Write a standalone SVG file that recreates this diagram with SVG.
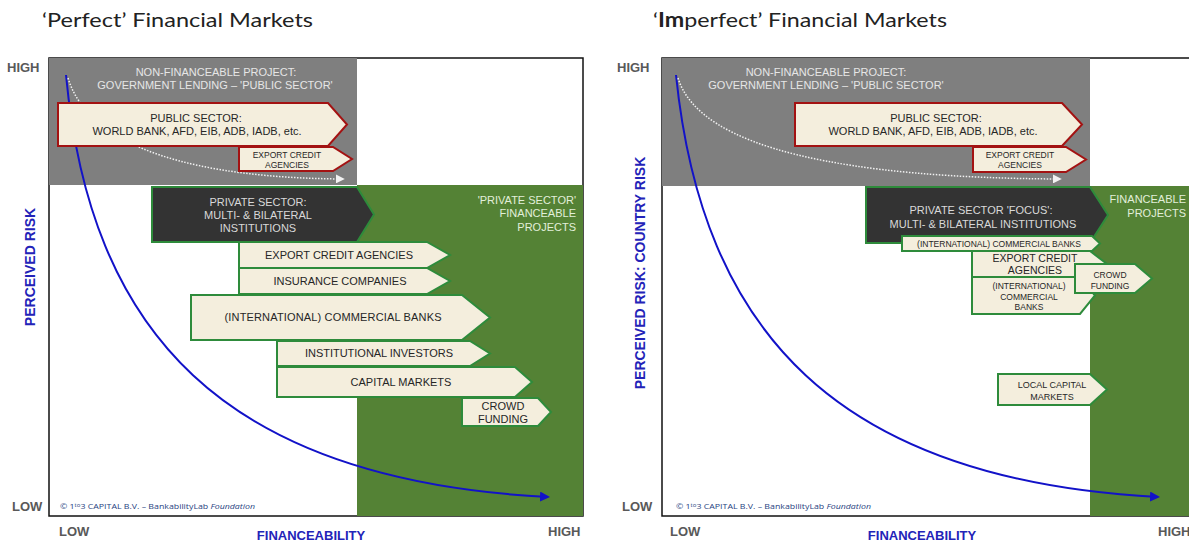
<svg xmlns="http://www.w3.org/2000/svg" width="1189" height="543" viewBox="0 0 1189 543">
<defs>
<style>
.t{font-family:"Liberation Sans",Arial,sans-serif;fill:#262626;text-anchor:middle}
.s11{font-size:11px}
.s8{font-size:8.5px}
.gt{fill:#e6e6e6}
.dt{fill:#d9d9d9}
.gr{fill:#e2efda;text-anchor:end}
.ax{font-family:"Liberation Sans",Arial,sans-serif;font-weight:bold;font-size:13px;fill:#595959}
.bl{font-family:"Liberation Sans",Arial,sans-serif;font-weight:bold;font-size:13px;fill:#2323b8;text-anchor:middle}
.vl{font-size:14px}
.title{font-family:Lato,"Open Sans",sans-serif;font-size:20px;fill:#222}
.copy{font-family:"Open Sans",Lato,sans-serif;font-size:8px;fill:#1f3f7f}
.red{fill:#f4eedd;stroke:#a31212;stroke-width:2}
.grn{fill:#f4eedd;stroke:#2e8b3b;stroke-width:2}
.dark{fill:#333333;stroke:#2e8b3b;stroke-width:2}
.frame{fill:#fff;stroke:#111;stroke-width:1.5}
.gray{fill:#7f7f7f}
.green{fill:#548235}
.curve{fill:none;stroke:#1212c8;stroke-width:2}
.dots{fill:none;stroke:#f2f2f2;stroke-width:1.5;stroke-dasharray:1.5 1.5}
</style>
<marker id="ab" viewBox="0 0 10 10" refX="8" refY="5" markerWidth="5" markerHeight="5" orient="auto" markerUnits="strokeWidth"><path d="M0,0 L10,5 L0,10 z" fill="#1212c8"/></marker>
<marker id="aw" viewBox="0 0 10 10" refX="8" refY="5" markerWidth="6" markerHeight="6" orient="auto" markerUnits="strokeWidth"><path d="M0,0 L10,5 L0,10 z" fill="#f2f2f2"/></marker>
</defs>

<g id="titles">
<text class="title" x="42" y="27" textLength="271" lengthAdjust="spacingAndGlyphs">‘Perfect’ Financial Markets</text>
<text class="title" x="653" y="27" textLength="294" lengthAdjust="spacingAndGlyphs">‘<tspan font-weight="bold">Im</tspan>perfect’ Financial Markets</text>
</g>

<!-- LEFT PANEL BACKGROUND -->
<g id="left-background">
<rect class="frame" x="49" y="58" width="534" height="458"/>
<rect class="gray" x="49" y="58" width="308" height="127"/>
<rect class="green" x="357" y="185" width="226" height="331"/>
<text class="t s11 gt" x="216" y="76">NON-FINANCEABLE PROJECT:</text>
<text class="t s11 gt" x="215" y="89">GOVERNMENT LENDING – 'PUBLIC SECTOR'</text>
<text class="t s11 gr" x="576" y="204">'PRIVATE SECTOR'</text>
<text class="t s11 gr" x="576" y="217">FINANCEABLE</text>
<text class="t s11 gr" x="576" y="231">PROJECTS</text>
</g>

<g id="left-axes">
<text class="ax" x="7" y="72">HIGH</text>
<text class="ax" x="12" y="511">LOW</text>
<text class="ax" x="59" y="536">LOW</text>
<text class="ax" x="548" y="536">HIGH</text>
<text class="bl" x="311" y="540">FINANCEABILITY</text>
<text class="bl vl" transform="translate(35,267) rotate(-90)">PERCEIVED RISK</text>
<text class="copy" x="60" y="509" textLength="195" lengthAdjust="spacingAndGlyphs">© 1<tspan font-size="5.5" dy="-2.5">to</tspan><tspan dy="2.5">3 CAPITAL B.V. – BankabilityLab </tspan><tspan font-style="italic">Foundation</tspan></text>
</g>

<!-- RIGHT PANEL BACKGROUND -->
<g id="right-background">
<rect class="frame" x="662" y="58" width="540" height="458"/>
<rect class="gray" x="662" y="58" width="428" height="128"/>
<rect class="green" x="1090" y="186" width="110" height="330"/>
<text class="t s11 gt" x="826" y="76">NON-FINANCEABLE PROJECT:</text>
<text class="t s11 gt" x="826" y="89">GOVERNMENT LENDING – 'PUBLIC SECTOR'</text>
<text class="t s11 gr" x="1186" y="203">FINANCEABLE</text>
<text class="t s11 gr" x="1186" y="217">PROJECTS</text>
</g>

<g id="right-axes">
<text class="ax" x="617" y="72">HIGH</text>
<text class="ax" x="622" y="511">LOW</text>
<text class="ax" x="670" y="536">LOW</text>
<text class="ax" x="1158" y="536">HIGH</text>
<text class="bl" x="922" y="540">FINANCEABILITY</text>
<text class="bl vl" transform="translate(645,273) rotate(-90)">PERCEIVED RISK: COUNTRY RISK</text>
<text class="copy" x="676" y="509" textLength="195" lengthAdjust="spacingAndGlyphs">© 1<tspan font-size="5.5" dy="-2.5">to</tspan><tspan dy="2.5">3 CAPITAL B.V. – BankabilityLab </tspan><tspan font-style="italic">Foundation</tspan></text>
</g>

<g id="connectors">
<path class="curve" d="M66,75 C90,330 220,480 548,497" marker-end="url(#ab)"/>
<path class="dots" d="M68,78 C90,150 200,178 343,179" marker-end="url(#aw)"/>
<path class="curve" d="M676,75 C702,330 835,480 1158,497" marker-end="url(#ab)"/>
<path class="dots" d="M678,78 C700,150 850,178 1060,179" marker-end="url(#aw)"/>
</g>

<!-- LEFT NODES -->
<g id="l-public">
<polygon class="red" points="58,103 328,103 347,124.5 328,146 58,146"/>
<text class="t s11" x="196" y="122">PUBLIC SECTOR:</text>
<text class="t s11" x="197" y="135">WORLD BANK, AFD, EIB, ADB, IADB, etc.</text>
</g>
<g id="l-eca-small">
<polygon class="red" points="239,147 333,147 352,159 333,171 239,171"/>
<text class="t s8" x="287" y="158">EXPORT CREDIT</text>
<text class="t s8" x="287" y="168">AGENCIES</text>
</g>
<g id="l-private">
<polygon class="dark" points="152,187 357,187 374,214.5 357,242 152,242"/>
<text class="t s11 dt" x="258" y="206">PRIVATE SECTOR:</text>
<text class="t s11 dt" x="258" y="219">MULTI- &amp; BILATERAL</text>
<text class="t s11 dt" x="258" y="232">INSTITUTIONS</text>
</g>
<g id="l-eca">
<polygon class="grn" points="239,242 427,242 450,255 427,268 239,268"/>
<text class="t s11" x="339" y="259">EXPORT CREDIT AGENCIES</text>
</g>
<g id="l-insurance">
<polygon class="grn" points="239,268 427,268 450,281 427,294 239,294"/>
<text class="t s11" x="340" y="285">INSURANCE COMPANIES</text>
</g>
<g id="l-banks">
<polygon class="grn" points="191,295 462,295 490,317.5 462,340 191,340"/>
<text class="t s11" x="333" y="321" textLength="217" lengthAdjust="spacing">(INTERNATIONAL) COMMERCIAL BANKS</text>
</g>
<g id="l-investors">
<polygon class="grn" points="277,341 470,341 490,353.5 470,366 277,366"/>
<text class="t s11" x="379" y="357" textLength="148" lengthAdjust="spacing">INSTITUTIONAL INVESTORS</text>
</g>
<g id="l-capital">
<polygon class="grn" points="277,367 515,367 532,382 515,397 277,397"/>
<text class="t s11" x="401" y="386">CAPITAL MARKETS</text>
</g>
<g id="l-crowd">
<polygon class="grn" points="462,398 538,398 551,412 538,426 462,426"/>
<text class="t s11" x="503" y="410">CROWD</text>
<text class="t s11" x="503" y="423">FUNDING</text>
</g>

<!-- RIGHT NODES -->
<g id="r-public">
<polygon class="red" points="795,103 1062,103 1082,124.5 1062,146 795,146"/>
<text class="t s11" x="936" y="122">PUBLIC SECTOR:</text>
<text class="t s11" x="933" y="135">WORLD BANK, AFD, EIB, ADB, IADB, etc.</text>
</g>
<g id="r-eca-small">
<polygon class="red" points="973,147 1066,147 1086,159.5 1066,172 973,172"/>
<text class="t s8" x="1020" y="158">EXPORT CREDIT</text>
<text class="t s8" x="1020" y="168">AGENCIES</text>
</g>
<g id="r-private">
<polygon class="dark" points="866,187 1090,187 1108,215 1090,243 866,243"/>
<text class="t s11 dt" x="981" y="214">PRIVATE SECTOR 'FOCUS':</text>
<text class="t s11 dt" x="983" y="228">MULTI- &amp; BILATERAL INSTITUTIONS</text>
</g>
<g id="r-banks-bar">
<polygon class="grn" points="902,236 1092,236 1100,243.5 1092,251 902,251"/>
<text class="t s8" x="999" y="246.5">(INTERNATIONAL) COMMERCIAL BANKS</text>
</g>
<g id="r-eca">
<polygon class="grn" points="972,251 1090,251 1107,264 1090,277 972,277"/>
<text class="t" font-size="10.5" x="1035" y="261.5">EXPORT CREDIT</text>
<text class="t" font-size="10.5" x="1035" y="273.5">AGENCIES</text>
</g>
<g id="r-banks">
<polygon class="grn" points="972,277 1080,277 1095,295.5 1080,314 972,314"/>
<text class="t s8" x="1029" y="289">(INTERNATIONAL)</text>
<text class="t s8" x="1029" y="300">COMMERCIAL</text>
<text class="t s8" x="1029" y="310">BANKS</text>
</g>
<g id="r-crowd">
<polygon class="grn" points="1075,264 1135,264 1152,278.5 1135,293 1075,293"/>
<text class="t s8" x="1110" y="278">CROWD</text>
<text class="t s8" x="1110" y="289">FUNDING</text>
</g>
<g id="r-local-capital">
<polygon class="grn" points="998,374 1090,374 1107,389.5 1090,405 998,405"/>
<text class="t" font-size="9" x="1052" y="387.5">LOCAL CAPITAL</text>
<text class="t" font-size="9" x="1052" y="399.5">MARKETS</text>
</g>
</svg>
